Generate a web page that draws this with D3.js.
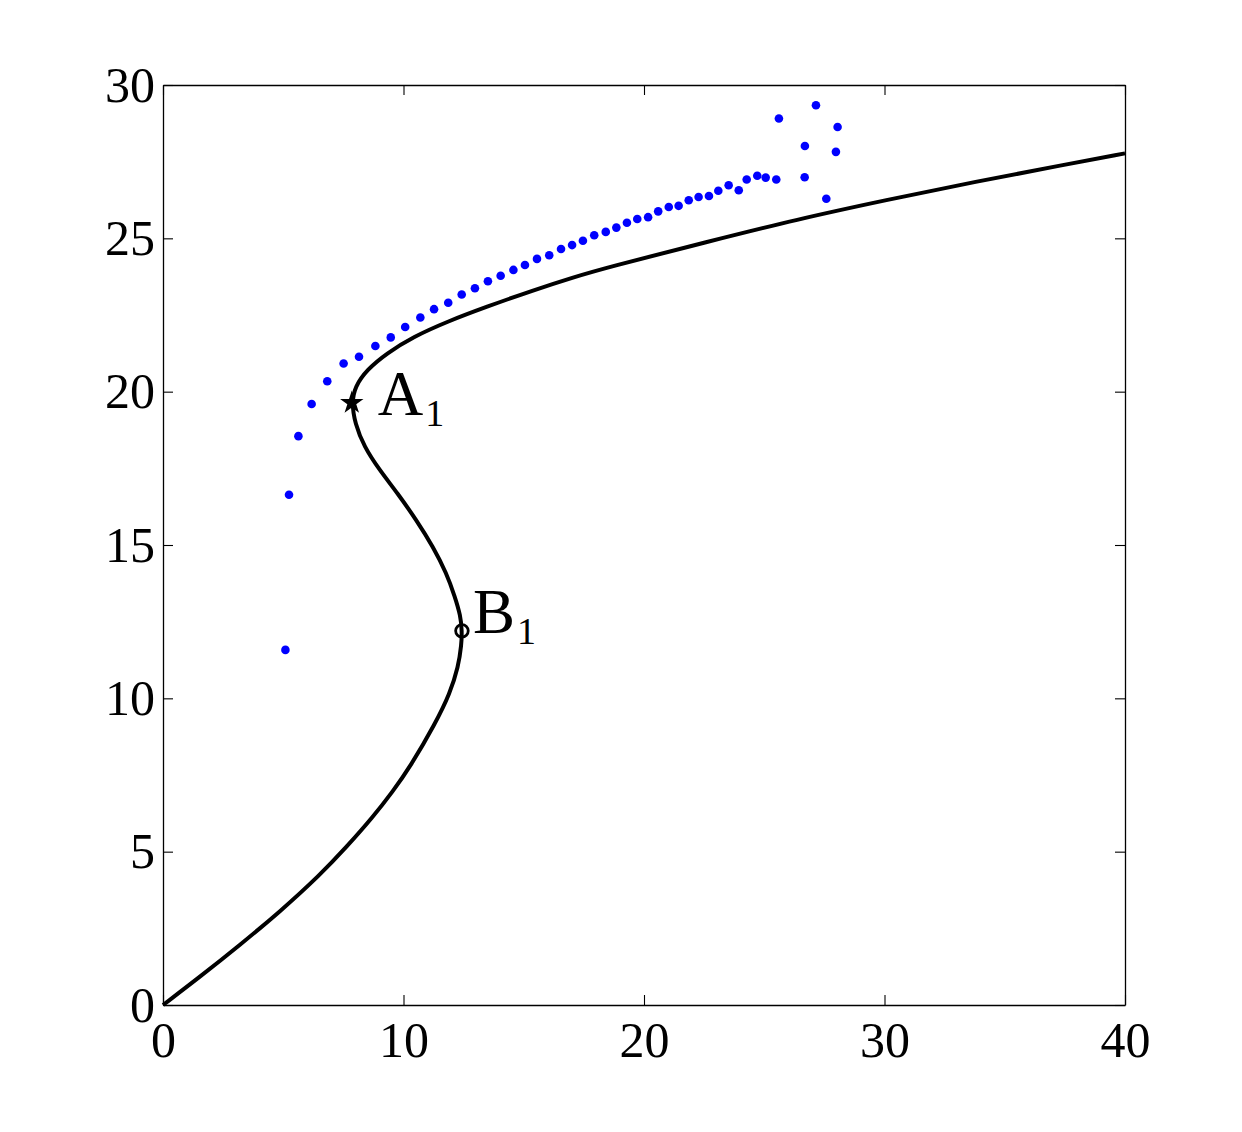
<!DOCTYPE html>
<html>
<head>
<meta charset="utf-8">
<script src="https://cdn.jsdelivr.net/npm/d3@7"></script>
<style>
  body { margin: 0; background: #fff; }
  svg { display: block; }
</style>
</head>
<body>
<svg></svg>
<script>
// black solution branch (in order along the curve)
var curveX = [0, 1.54, 3.20, 4.86, 6.53, 7.64, 8.74, 9.55, 10.28, 11.33, 11.93, 12.28, 12.41, 12.43, 12.37, 12.14, 11.79, 11.23, 10.54, 9.75, 9.00, 8.36, 7.98, 7.85, 7.98, 8.47, 9.30, 10.41, 11.80, 13.46, 15.40, 17.06, 18.45, 22.66, 26.37, 30.08, 33.79, 37.50, 40.0]
var curveY = [0, 0.92, 1.96, 3.04, 4.24, 5.16, 6.14, 6.96, 7.77, 9.19, 10.16, 11.03, 11.75, 12.20, 12.70, 13.31, 14.08, 14.94, 15.81, 16.69, 17.45, 18.21, 18.97, 19.64, 20.16, 20.71, 21.25, 21.79, 22.28, 22.77, 23.31, 23.73, 24.05, 24.89, 25.62, 26.25, 26.85, 27.40, 27.77]

// blue scattered points
var dotX = [5.09, 5.24, 5.63, 6.18, 6.83, 7.51, 8.15, 8.83, 9.47, 10.07, 10.70, 11.27, 11.86, 12.42, 12.97, 13.51, 14.04, 14.57, 15.05, 15.55, 16.06, 16.55, 17.01, 17.46, 17.93, 18.41, 18.85, 19.29, 19.72, 20.17, 20.59, 21.03, 21.44, 21.86, 22.27, 22.70, 23.09, 23.52, 23.94, 24.27, 24.71, 25.06, 25.50, 25.61, 26.68, 26.69, 27.15, 27.58, 27.98, 28.05]
var dotY = [11.58, 16.64, 18.55, 19.60, 20.34, 20.92, 21.14, 21.49, 21.77, 22.11, 22.42, 22.69, 22.90, 23.17, 23.37, 23.60, 23.78, 23.97, 24.13, 24.33, 24.45, 24.65, 24.78, 24.92, 25.10, 25.21, 25.35, 25.51, 25.63, 25.69, 25.88, 26.02, 26.06, 26.24, 26.35, 26.38, 26.55, 26.73, 26.57, 26.92, 27.04, 26.98, 26.92, 28.91, 26.99, 28.01, 29.34, 26.29, 27.82, 28.63]

// special points
var markNames = ['A', 'B']
var markX = [7.85, 12.43]
var markY = [19.64, 12.20]

var xTicks = [0, 10, 20, 30, 40]
var yTicks = [0, 5, 10, 15, 20, 25, 30]

var width = 1242, height = 1132
var margin = {top: 85, right: 117, bottom: 127, left: 163}
var w = width - margin.left - margin.right
var h = height - margin.top - margin.bottom

var svg = d3.select('svg')
    .attr('width', width)
    .attr('height', height)

var g = svg.append('g')
    .attr('transform', 'translate(' + margin.left + ',' + margin.top + ')')

var x = d3.scaleLinear().domain([0, 40]).range([0, w])
var y = d3.scaleLinear().domain([0, 30]).range([h, 0])

var font = '"Liberation Serif", "Times New Roman", serif'

// axes, ticks pointing inward on all four sides
function styleAxis(sel) {
    sel.select('.domain').attr('stroke', '#000').attr('stroke-width', 1.3)
    sel.selectAll('.tick line').attr('stroke', '#000').attr('stroke-width', 1.1)
    sel.selectAll('.tick text')
        .attr('fill', '#000')
        .style('font-family', font)
        .style('font-size', '50px')
}

g.append('g')
    .attr('transform', 'translate(0,' + h + ')')
    .call(d3.axisBottom(x).tickValues(xTicks).tickSizeInner(-10).tickSizeOuter(0).tickPadding(16))
    .call(styleAxis)

g.append('g')
    .call(d3.axisLeft(y).tickValues(yTicks).tickSizeInner(-10).tickSizeOuter(0).tickPadding(8))
    .call(styleAxis)

g.append('g')
    .call(d3.axisTop(x).tickValues(xTicks).tickSizeInner(-10).tickSizeOuter(0).tickFormat(''))
    .call(styleAxis)

g.append('g')
    .attr('transform', 'translate(' + w + ',0)')
    .call(d3.axisRight(y).tickValues(yTicks).tickSizeInner(-10).tickSizeOuter(0).tickFormat(''))
    .call(styleAxis)

// blue dots
var dots = dotX.map(function(d, i) { return {x: d, y: dotY[i]} })
g.append('g').selectAll('circle')
    .data(dots)
    .enter()
    .append('circle')
    .attr('cx', function(d) { return x(d.x) })
    .attr('cy', function(d) { return y(d.y) })
    .attr('r', 4.3)
    .attr('fill', '#0000ff')

// black branch (basis spline smooths out reading noise)
var pts = curveX.map(function(d, i) { return [d, curveY[i]] })
var line = d3.line()
    .x(function(d) { return x(d[0]) })
    .y(function(d) { return y(d[1]) })
    .curve(d3.curveBasis)

g.append('path')
    .datum(pts)
    .attr('d', line)
    .attr('fill', 'none')
    .attr('stroke', '#000')
    .attr('stroke-width', 4)
    .attr('stroke-linejoin', 'round')

// A1 star
g.append('path')
    .attr('d', d3.symbol().type(d3.symbolStar).size(170)())
    .attr('transform', 'translate(' + x(markX[0]) + ',' + y(markY[0]) + ')')
    .attr('fill', '#000')

// B1 open circle
g.append('circle')
    .attr('cx', x(markX[1]))
    .attr('cy', y(markY[1]))
    .attr('r', 6.3)
    .attr('fill', 'none')
    .attr('stroke', '#000')
    .attr('stroke-width', 2.8)

// labels
var labelOffset = [[26, 12], [11, 2]]
markNames.forEach(function(name, i) {
    var t = g.append('text')
        .attr('x', x(markX[i]) + labelOffset[i][0])
        .attr('y', y(markY[i]) + labelOffset[i][1])
        .style('font-family', font)
        .style('font-size', '63px')
        .attr('fill', '#000')
    t.append('tspan').text(name)
    t.append('tspan')
        .attr('dx', 2)
        .attr('dy', 11)
        .style('font-size', '38px')
        .text('1')
})
</script>
</body>
</html>
